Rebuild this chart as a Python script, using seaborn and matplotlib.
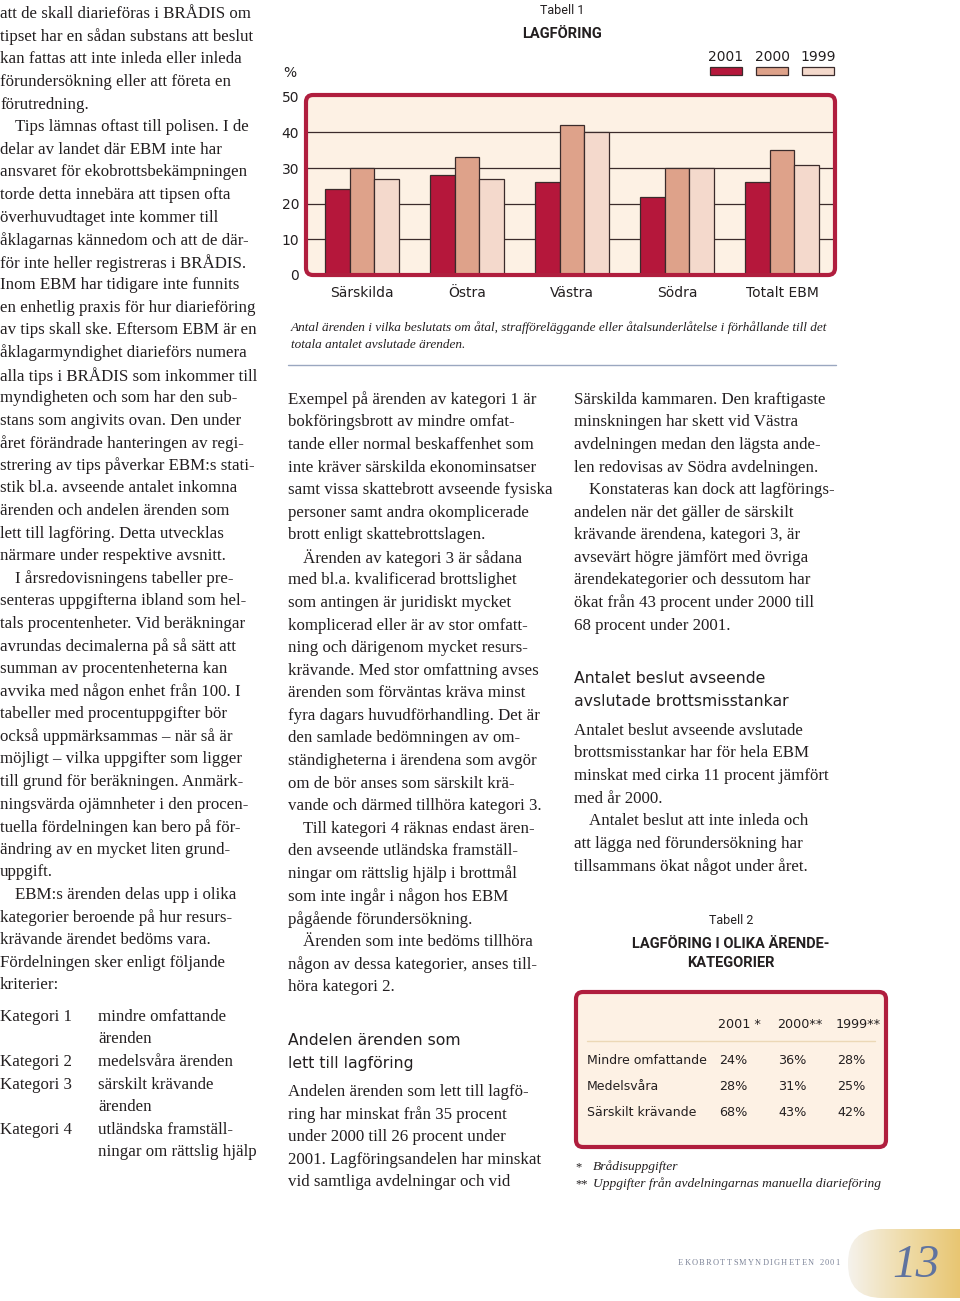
import numpy as np
import pandas as pd
import matplotlib
matplotlib.use('Agg')
import matplotlib.pyplot as plt
import seaborn as sns
from matplotlib.patches import FancyBboxPatch, Rectangle
from matplotlib.colors import LinearSegmentedColormap
from matplotlib.textpath import TextPath
from matplotlib.font_manager import FontProperties

# --- chart data (Tabell 1) ---
regions = ['Särskilda', 'Östra', 'Västra', 'Södra', 'Totalt EBM']
years = ['2001', '2000', '1999']
share_2001 = [24, 28, 26, 22, 26]
share_2000 = [30, 33, 42, 30, 35]
share_1999 = [27, 27, 40, 30, 31]
bar_colors = ['#b5173b', '#dea28a', '#f4d9cc']
y_ticks = [0, 10, 20, 30, 40, 50]

# --- table data (Tabell 2) ---
categories = ['Mindre omfattande', 'Medelsvåra', 'Särskilt krävande']
table_heads = ['2001 *', '2000**', '1999**']
cat_2001 = ['24%', '28%', '68%']
cat_2000 = ['36%', '31%', '43%']
cat_1999 = ['28%', '25%', '42%']

# --- page text ---
left_col = [
    'att de skall diarieföras i BRÅDIS om',
    'tipset har en sådan substans att beslut',
    'kan fattas att inte inleda eller inleda',
    'förundersökning eller att företa en',
    'förutredning.',
    '\tTips lämnas oftast till polisen. I de',
    'delar av landet där EBM inte har',
    'ansvaret för ekobrottsbekämpningen',
    'torde detta innebära att tipsen ofta',
    'överhuvudtaget inte kommer till',
    'åklagarnas kännedom och att de där-',
    'för inte heller registreras i BRÅDIS.',
    'Inom EBM har tidigare inte funnits',
    'en enhetlig praxis för hur diarieföring',
    'av tips skall ske. Eftersom EBM är en',
    'åklagarmyndighet diarieförs numera',
    'alla tips i BRÅDIS som inkommer till',
    'myndigheten och som har den sub-',
    'stans som angivits ovan. Den under',
    'året förändrade hanteringen av regi-',
    'strering av tips påverkar EBM:s stati-',
    'stik bl.a. avseende antalet inkomna',
    'ärenden och andelen ärenden som',
    'lett till lagföring. Detta utvecklas',
    'närmare under respektive avsnitt.',
    '\tI årsredovisningens tabeller pre-',
    'senteras uppgifterna ibland som hel-',
    'tals procentenheter. Vid beräkningar',
    'avrundas decimalerna på så sätt att',
    'summan av procentenheterna kan',
    'avvika med någon enhet från 100. I',
    'tabeller med procentuppgifter bör',
    'också uppmärksammas – när så är',
    'möjligt – vilka uppgifter som ligger',
    'till grund för beräkningen. Anmärk-',
    'ningsvärda ojämnheter i den procen-',
    'tuella fördelningen kan bero på för-',
    'ändring av en mycket liten grund-',
    'uppgift.',
    '\tEBM:s ärenden delas upp i olika',
    'kategorier beroende på hur resurs-',
    'krävande ärendet bedöms vara.',
    'Fördelningen sker enligt följande',
    'kriterier:',
]
cat_names = ['Kategori 1', '', 'Kategori 2', 'Kategori 3', '', 'Kategori 4', '']
cat_texts = ['mindre omfattande', 'ärenden', 'medelsvåra ärenden', 'särskilt krävande',
             'ärenden', 'utländska framställ-', 'ningar om rättslig hjälp']

mid_col = [
    'Exempel på ärenden av kategori 1 är',
    'bokföringsbrott av mindre omfat-',
    'tande eller normal beskaffenhet som',
    'inte kräver särskilda ekonominsatser',
    'samt vissa skattebrott avseende fysiska',
    'personer samt andra okomplicerade',
    'brott enligt skattebrottslagen.',
    '\tÄrenden av kategori 3 är sådana',
    'med bl.a. kvalificerad brottslighet',
    'som antingen är juridiskt mycket',
    'komplicerad eller är av stor omfatt-',
    'ning och därigenom mycket resurs-',
    'krävande. Med stor omfattning avses',
    'ärenden som förväntas kräva minst',
    'fyra dagars huvudförhandling. Det är',
    'den samlade bedömningen av om-',
    'ständigheterna i ärendena som avgör',
    'om de bör anses som särskilt krä-',
    'vande och därmed tillhöra kategori 3.',
    '\tTill kategori 4 räknas endast ären-',
    'den avseende utländska framställ-',
    'ningar om rättslig hjälp i brottmål',
    'som inte ingår i någon hos EBM',
    'pågående förundersökning.',
    '\tÄrenden som inte bedöms tillhöra',
    'någon av dessa kategorier, anses till-',
    'höra kategori 2.',
]
mid_head = ['Andelen ärenden som', 'lett till lagföring']
mid_col2 = [
    'Andelen ärenden som lett till lagfö-',
    'ring har minskat från 35 procent',
    'under 2000 till 26 procent under',
    '2001. Lagföringsandelen har minskat',
    'vid samtliga avdelningar och vid',
]
right_col = [
    'Särskilda kammaren. Den kraftigaste',
    'minskningen har skett vid Västra',
    'avdelningen medan den lägsta ande-',
    'len redovisas av Södra avdelningen.',
    '\tKonstateras kan dock att lagförings-',
    'andelen när det gäller de särskilt',
    'krävande ärendena, kategori 3, är',
    'avsevärt högre jämfört med övriga',
    'ärendekategorier och dessutom har',
    'ökat från 43 procent under 2000 till',
    '68 procent under 2001.',
]
right_head = ['Antalet beslut avseende', 'avslutade brottsmisstankar']
right_col2 = [
    'Antalet beslut avseende avslutade',
    'brottsmisstankar har för hela EBM',
    'minskat med cirka 11 procent jämfört',
    'med år 2000.',
    '\tAntalet beslut att inte inleda och',
    'att lägga ned förundersökning har',
    'tillsammans ökat något under året.',
]
caption = ['Antal ärenden i vilka beslutats om åtal, strafföreläggande eller åtalsunderlåtelse i förhållande till det',
           'totala antalet avslutade ärenden.']
footnotes = [('*', 'Brådisuppgifter'), ('**', 'Uppgifter från avdelningarnas manuella diarieföring')]
footer = 'EKOBROTTSMYNDIGHETEN 2001'

INK = '#231f20'
RED = '#b01e3e'
CREAM = '#fdf1e4'
SERIF = 'Liberation Serif'
SANS = 'DejaVu Sans'
LH = 22.58
DY = 1.8  # va='center' sits a touch high for this font

sns.set_theme(style='white')
plt.rcParams['font.family'] = [SANS]

fig = plt.figure(figsize=(9.6, 13.01), dpi=100)
page = fig.add_axes([0, 0, 1, 1])
page.set_xlim(0, 960)
page.set_ylim(1301, 0)
page.axis('off')


def body(lines, x, y0, size=12.2, indent=15):
    for i, s in enumerate(lines):
        dx = indent if s.startswith('\t') else 0
        page.text(x + dx, y0 + DY + i * LH, s.lstrip('\t'), family=SERIF, fontsize=size,
                  color=INK, va='center', ha='left')


def heading(lines, x, y0):
    for i, s in enumerate(lines):
        page.text(x, y0 + DY + i * 23, s, family=SANS, fontsize=11.3, color=INK, va='center')


def tracked(s, x0, x1, y, size, **kw):
    # letter-spaced caps: glyph widths + equal gaps so the line spans x0..x1
    fp = FontProperties(family=SERIF)
    px = 100 / 72
    w = [size * 0.28 * px if ch == ' ' else
         TextPath((0, 0), ch, size=size, prop=fp).get_extents().width * px for ch in s]
    gap = (x1 - x0 - sum(w)) / (len(s) - 1)
    x = x0
    for ch, wi in zip(s, w):
        if ch != ' ':
            page.text(x, y, ch, family=SERIF, fontsize=size, ha='left', va='center', **kw)
        x += wi + gap


body(left_col, 0, 12.5)
for i, (n, t) in enumerate(zip(cat_names, cat_texts)):
    y = 1015 + DY + i * LH
    page.text(0, y, n, family=SERIF, fontsize=12.2, color=INK, va='center')
    page.text(98, y, t, family=SERIF, fontsize=12.2, color=INK, va='center')

body(mid_col, 288, 398)
heading(mid_head, 288, 1039)
body(mid_col2, 288, 1090)
body(right_col, 574, 398)
heading(right_head, 574, 677)
body(right_col2, 574, 729)

# --- Tabell 1 ---
page.text(562, 10, 'Tabell 1', family='Roboto', fontsize=9, color=INK, ha='center', va='center')
page.text(562, 34, 'LAGFÖRING', family='Roboto', weight='bold', fontsize=10.5, color=INK,
          ha='center', va='center')
page.text(283, 73, '%', family=SANS, fontsize=10, color=INK, va='center')
for i, (yr, c) in enumerate(zip(years, bar_colors)):
    x0 = 710 + i * 46
    page.text(x0 + 16, 57, yr, family=SANS, fontsize=10, color=INK, ha='center', va='center')
    page.add_patch(Rectangle((x0, 67), 32, 8, fc=c, ec='#3b2b2b', lw=0.9))

page.add_patch(FancyBboxPatch((306, 95), 529, 180, boxstyle='round,pad=0,rounding_size=7',
                              fc=CREAM, ec='none'))
fig.patches.append(FancyBboxPatch((306, 95), 529, 180, boxstyle='round,pad=0,rounding_size=7',
                                  fc='none', ec=RED, lw=3, transform=page.transData, zorder=5))

ax = fig.add_axes([306 / 960, 1 - 275 / 1301, 529 / 960, 180 / 1301])
df = pd.DataFrame({
    'region': regions * 3,
    'year': np.repeat(years, len(regions)),
    'share': share_2001 + share_2000 + share_1999,
})
sns.barplot(data=df, x='region', y='share', hue='year', hue_order=years, palette=bar_colors,
            width=0.7, gap=0, saturation=1, edgecolor='#3b2b2b', linewidth=0.9,
            errorbar=None, legend=False, ax=ax, zorder=3)
for v in y_ticks[1:-1]:
    ax.axhline(v, color='#3b2b2b', lw=0.9, zorder=1)
ax.set_xlim(-0.533, 4.505)
ax.set_ylim(0, 50.5)
ax.set_yticks(y_ticks)
ax.set_facecolor('none')
for sp in ax.spines.values():
    sp.set_visible(False)
ax.set_xlabel('')
ax.set_ylabel('')
ax.tick_params(axis='y', length=0, pad=5, labelsize=10, labelcolor=INK)
ax.tick_params(axis='x', length=0, pad=8, labelsize=10, labelcolor=INK)

for i, s in enumerate(caption):
    page.text(291, 328 + i * 17, s, family=SERIF, style='italic', fontsize=9.5, color=INK, va='center')
page.plot([288, 836], [365, 365], color='#9aa7c0', lw=1)

# --- Tabell 2 ---
page.text(731, 920, 'Tabell 2', family='Roboto', fontsize=9, color=INK, ha='center', va='center')
page.text(731, 944, 'LAGFÖRING I OLIKA ÄRENDE-', family='Roboto', weight='bold', fontsize=10.5,
          color=INK, ha='center', va='center')
page.text(731, 963, 'KATEGORIER', family='Roboto', weight='bold', fontsize=10.5,
          color=INK, ha='center', va='center')
page.add_patch(FancyBboxPatch((576, 992), 310, 155, boxstyle='round,pad=0,rounding_size=7',
                              fc=CREAM, ec=RED, lw=3))
col_x = [718, 777, 836]
for x, h in zip(col_x, table_heads):
    page.text(x, 1024, h, family=SANS, fontsize=9.2, color=INK, va='center')
page.plot([587, 875], [1041, 1041], color='#ecd8b6', lw=1)
for r, cat in enumerate(categories):
    y = 1061 + r * 26
    page.text(587, y, cat, family=SANS, fontsize=9, color=INK, va='center')
    for x, col in zip(col_x, [cat_2001, cat_2000, cat_1999]):
        page.text(x + 1, y, col[r], family=SANS, fontsize=9.2, color=INK, va='center')
for i, (mark, s) in enumerate(footnotes):
    y = 1167 + i * 17
    page.text(575, y, mark, family=SERIF, fontsize=9, color=INK, va='center')
    page.text(593, y, s, family=SERIF, style='italic', fontsize=9.7, color=INK, va='center')

# --- footer ---
tracked(footer, 678, 838, 1263, 6.0, color='#7e8599')
tab = FancyBboxPatch((848, 1229), 160, 69, boxstyle='round,pad=0,rounding_size=34',
                     fc='none', ec='none')
page.add_patch(tab)
grad = np.linspace(0, 1, 256).reshape(1, -1)
cmap = LinearSegmentedColormap.from_list('tab', ['#f5f2ec', '#efdcaa', '#e8c672'])
im = page.imshow(grad, cmap=cmap, extent=[848, 960, 1298, 1229], aspect='auto', zorder=0)
im.set_clip_path(tab)
page.set_xlim(0, 960)
page.set_ylim(1301, 0)
page.text(916, 1266, '13', family=SERIF, style='italic', fontsize=34, color='#5f739f',
          ha='center', va='center')

fig.savefig('out.png', dpi=100)
